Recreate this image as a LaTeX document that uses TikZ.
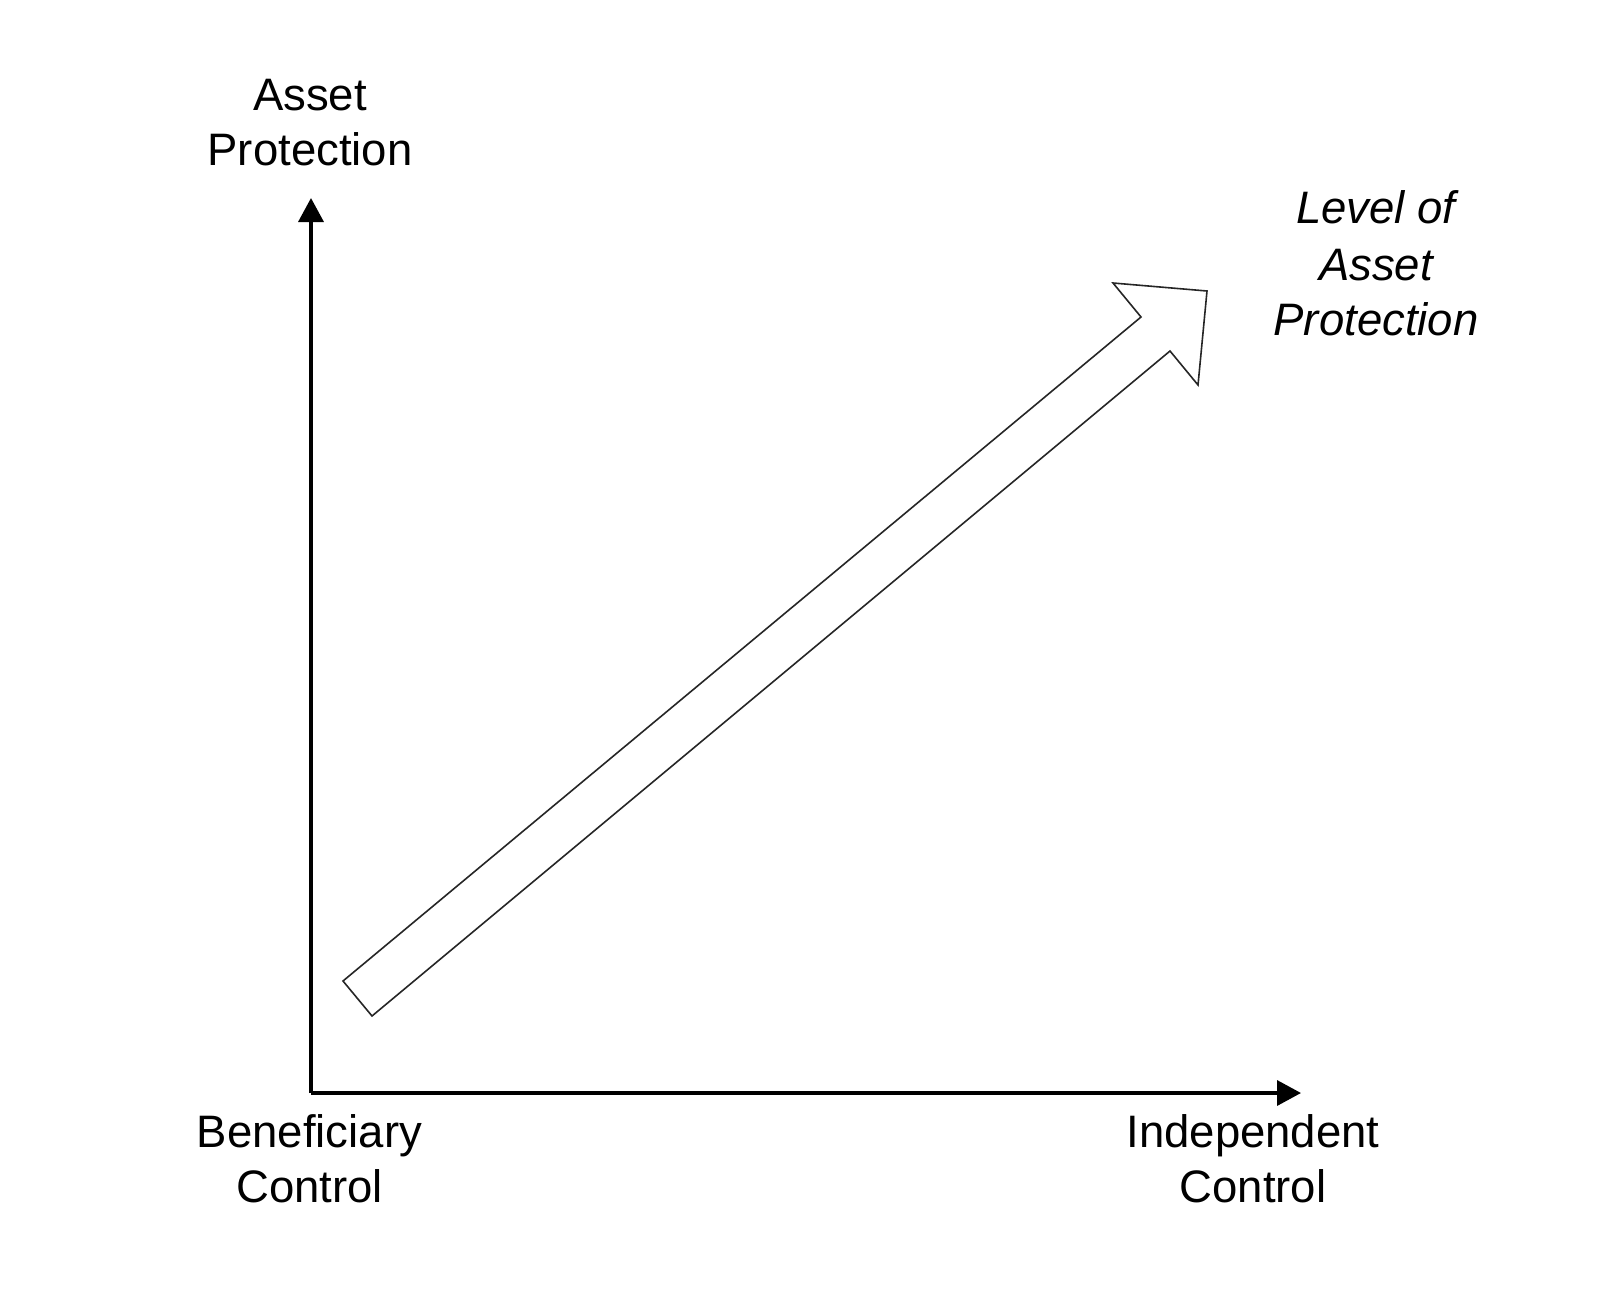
\documentclass[tikz,border=0pt]{standalone}
\usepackage{fontspec}
\setmainfont{Liberation Sans}
\usetikzlibrary{arrows.meta}
\tikzset{
  axisline/.style={line width=3.5pt, -{Triangle[length=24pt,width=25pt]}},
  bigarrow/.style={draw=black!85, line width=1.6pt, line join=miter, fill=white},
  lbl/.style={anchor=base, inner sep=0pt, font=\fontsize{45.5}{55}\selectfont},
  lbli/.style={lbl, font=\fontsize{45.5}{55}\selectfont\itshape}
}
\begin{document}
\begin{tikzpicture}[x=1pt,y=-1pt]
\useasboundingbox (0,0) rectangle (1616,1288);
\coordinate (O) at (311,1093);
\coordinate (ytip) at (311,198);
\coordinate (xtip) at (1301,1093);
\draw[axisline] (O) -- (ytip);
\draw[axisline] (O) -- (xtip);
% hollow arrow
\coordinate (t1) at (343,981);
\coordinate (t2) at (372,1016);
\coordinate (n1) at (1141,317);
\coordinate (h1) at (1113,283);
\coordinate (h2) at (1207,291);
\coordinate (h3) at (1198,385);
\coordinate (n2) at (1170,351);
\draw[bigarrow] (t1) -- (n1) -- (h1) -- (h2) -- (h3) -- (n2) -- (t2) -- cycle;
% labels
\node[lbl] (ya1) at (310,110) {Asset};
\node[lbl] (ya2) at (310,165) {Protection};
\node[lbli] (la1) at (1376,223) {Level of};
\node[lbli] (la2) at (1376,280) {Asset};
\node[lbli] (la3) at (1376,335) {Protection};
\node[lbl] (bc1) at (309.5,1147) {Beneficiary};
\node[lbl] (bc2) at (309.5,1202) {Control};
\node[lbl] (ic1) at (1253,1147) {Independent};
\node[lbl] (ic2) at (1253,1202) {Control};
\end{tikzpicture}
\end{document}
